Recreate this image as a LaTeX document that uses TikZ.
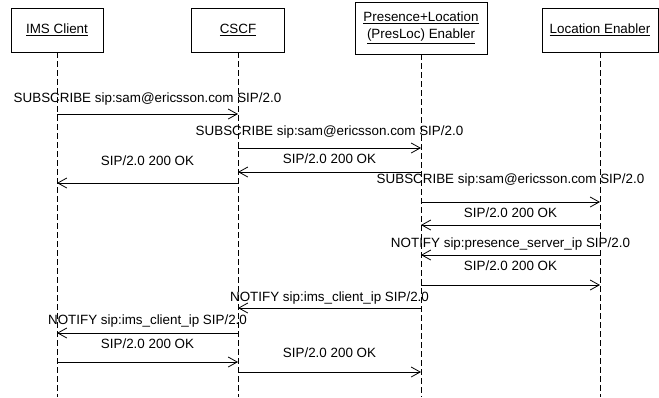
\documentclass[tikz,border=0pt]{standalone}
\usepackage{fontspec}
\setmainfont{Liberation Sans}
\usetikzlibrary{arrows.meta,calc,positioning}
% one message: from, to, arrow y, gap of label baseline above arrow, text
\newcommand*\sipmsg[5]{\draw[msg] (#1 |- 0,#3) -- node[lbl,yshift=#4pt] {#5} (#2 |- 0,#3);}

\begin{document}
\begin{tikzpicture}[x=1pt,y=-1pt,line width=0.8pt,font={\fontsize{13.4}{17}\selectfont},
  actor/.style={draw,fill=white,inner sep=0pt,minimum height=44pt,align=center},
  lifeline/.style={dash pattern=on 6pt off 3pt},
  msg/.style={-{Straight Barb[length=9pt,width=10pt]}},
  lbl/.style={midway,anchor=base,inner sep=0pt}]
\useasboundingbox (0,0) rectangle (659,397);

% actors
\node[actor,minimum width=92pt] (ims) at (57,30) {\underline{IMS Client}};
\node[actor,minimum width=93pt] (cscf) at (238,30) {\underline{CSCF}};
\node[actor,minimum width=132pt,minimum height=52pt] (presloc) at (421,28)
  {\underline{Presence+Location}\\\underline{(PresLoc) Enabler}};
\node[actor,minimum width=116pt] (locen) at (600,30) {\underline{Location Enabler}};

% lifelines
\foreach \a in {ims,cscf,presloc,locen}
  \draw[lifeline] (\a.south) -- (\a |- 0,397);

% messages
\sipmsg{ims}{cscf}{114}{12}{SUBSCRIBE sip:sam@ericsson.com SIP/2.0}
\sipmsg{cscf}{presloc}{148}{13}{SUBSCRIBE sip:sam@ericsson.com SIP/2.0}
\sipmsg{presloc}{cscf}{172}{9}{SIP/2.0 200 OK}
\sipmsg{cscf}{ims}{183}{18}{SIP/2.0 200 OK}
\sipmsg{presloc}{locen}{202}{19}{SUBSCRIBE sip:sam@ericsson.com SIP/2.0}
\sipmsg{locen}{presloc}{225}{8}{SIP/2.0 200 OK}
\sipmsg{locen}{presloc}{255}{8}{NOTIFY sip:presence\_server\_ip SIP/2.0}
\sipmsg{presloc}{locen}{285}{15}{SIP/2.0 200 OK}
\sipmsg{presloc}{cscf}{308}{7}{NOTIFY sip:ims\_client\_ip SIP/2.0}
\sipmsg{cscf}{ims}{333}{9}{NOTIFY sip:ims\_client\_ip SIP/2.0}
\sipmsg{ims}{cscf}{362}{14}{SIP/2.0 200 OK}
\sipmsg{cscf}{presloc}{372}{15}{SIP/2.0 200 OK}

\end{tikzpicture}
\end{document}
